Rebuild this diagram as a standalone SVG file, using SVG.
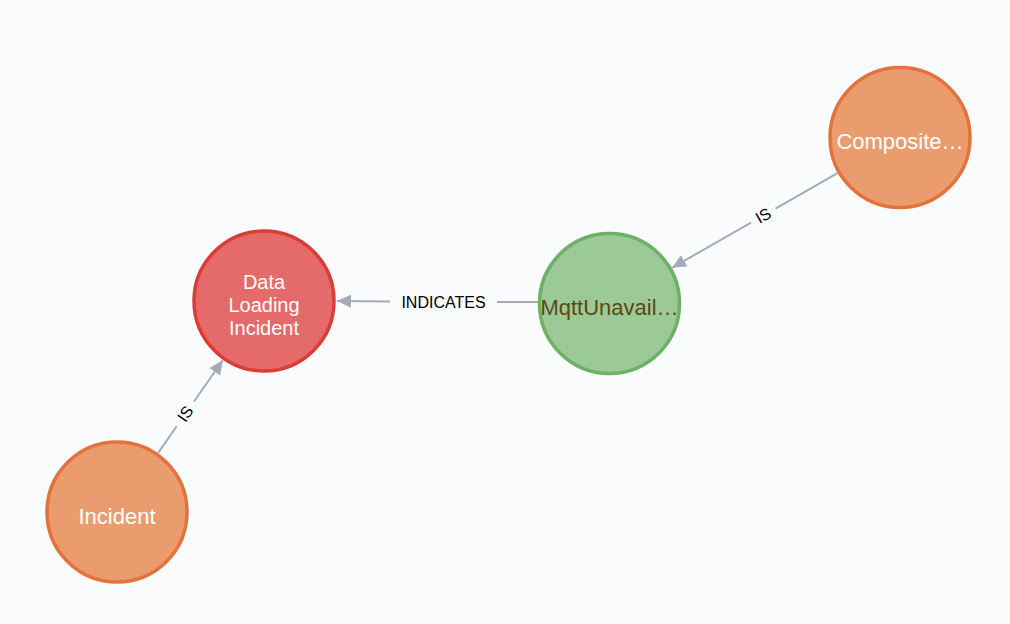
<svg xmlns="http://www.w3.org/2000/svg" width="1010" height="624" viewBox="0 0 1010 624">
<style>
.bg{fill:#f9fbfd}
.orange circle{fill:#eb9c6f;stroke:#e4733b;stroke-width:3.5}
.red circle{fill:#e56b6a;stroke:#dc3c36;stroke-width:3.5}
.green circle{fill:#9cca96;stroke:#6db165;stroke-width:3.5}
.nt{font-family:"Liberation Sans",Arial,sans-serif;font-size:22px;text-anchor:middle;fill:#ffffff}
.red .nt{font-size:20px}
.green .nt{fill:#5e4615}
.edge{stroke:#a5abb6;stroke-width:2;fill:none}
.et{font-family:"Liberation Sans",Arial,sans-serif;font-size:16px;text-anchor:middle;dominant-baseline:central;fill:#000000}
</style>
<defs>
<marker id="arr" markerUnits="userSpaceOnUse" markerWidth="14" markerHeight="14" refX="14" refY="7" orient="auto" viewBox="0 0 14 14">
<path d="M0,0.5 L14,7 L0,13.5 Z" fill="#a5abb6"/>
</marker>
</defs>
<rect class="bg" x="0" y="0" width="1010" height="624"/>
<g id="connectors">
<g id="e-indicates">
<line class="edge" x1="538" y1="302" x2="497" y2="302"/>
<line class="edge" x1="390" y1="301.5" x2="337" y2="301" marker-end="url(#arr)"/>
<text class="et" x="443.5" y="302">INDICATES</text>
</g>
<g id="e-composite-is">
<line class="edge" x1="837.5" y1="173.2" x2="775.5" y2="208.6"/>
<line class="edge" x1="751" y1="222.6" x2="672" y2="267.8" marker-end="url(#arr)"/>
<text class="et" x="763.3" y="215.6" transform="rotate(-29.7 763.3 215.6)">IS</text>
</g>
<g id="e-incident-is">
<line class="edge" x1="158.2" y1="452.9" x2="176.7" y2="426.3"/>
<line class="edge" x1="194" y1="401.5" x2="222.8" y2="360.2" marker-end="url(#arr)"/>
<text class="et" x="185.4" y="413.9" transform="rotate(-55.1 185.4 413.9)">IS</text>
</g>
</g>
<g id="node-data-loading-incident" class="red">
<circle cx="264" cy="301" r="70"/>
<text class="nt" x="264" y="289">Data</text>
<text class="nt" x="264" y="312">Loading</text>
<text class="nt" x="264" y="335">Incident</text>
</g>
<g id="node-mqtt" class="green">
<circle cx="609.5" cy="303.5" r="70"/>
<text class="nt" x="609.5" y="315">MqttUnavail…</text>
</g>
<g id="node-composite" class="orange">
<circle cx="900" cy="137.5" r="70"/>
<text class="nt" x="900" y="149">Composite…</text>
</g>
<g id="node-incident" class="orange">
<circle cx="117" cy="512" r="70"/>
<text class="nt" x="117" y="524">Incident</text>
</g>
</svg>
